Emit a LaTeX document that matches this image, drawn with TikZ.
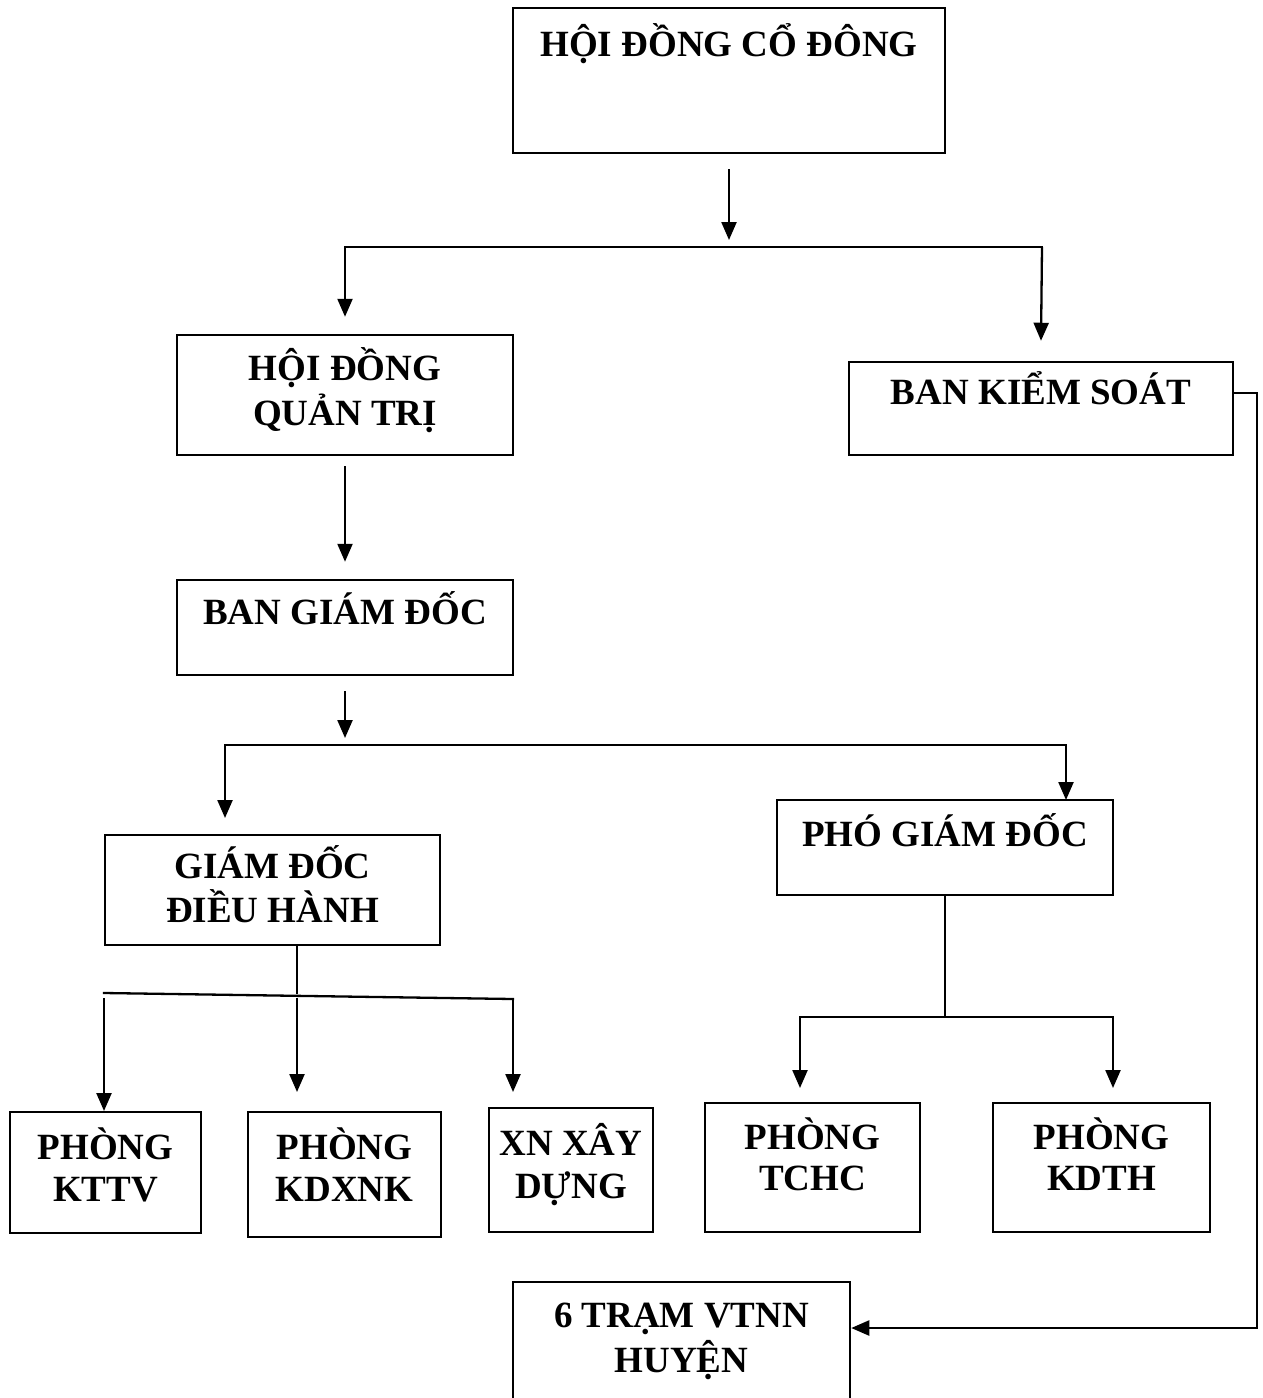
\documentclass[tikz,border=0pt]{standalone}
\usepackage{fontspec}
\setmainfont{Liberation Serif}
\usetikzlibrary{arrows.meta}
\begin{document}
\begin{tikzpicture}[x=1pt,y=-1pt,
  unit/.style={draw, line width=2.5pt, inner sep=0pt},
  lbl/.style={anchor=base, inner sep=0pt, font=\bfseries\fontsize{37}{44}\selectfont},
  link/.style={line width=2.3pt, line cap=rect},
  arr/.style={line width=2.3pt, -{Triangle[length=18pt,width=15pt]}}]

% page frame
\useasboundingbox (0,0) rectangle (1262,1398);
\clip (0,0) rectangle (1262,1398);
\fill[white] (0,0) rectangle (1262,1398);

% boxes
\node[unit, minimum width=432pt, minimum height=145pt] (hdcd)  at (729,80.5) {};
\node[unit, minimum width=336pt, minimum height=120pt] (hdqt)  at (345,395) {};
\node[unit, minimum width=384pt, minimum height=93pt]  (bks)   at (1041,408.5) {};
\node[unit, minimum width=336pt, minimum height=95pt]  (bgd)   at (345,627.5) {};
\node[unit, minimum width=335pt, minimum height=110pt] (gddh)  at (272.5,890) {};
\node[unit, minimum width=336pt, minimum height=95pt]  (pgd)   at (945,847.5) {};
\node[unit, minimum width=191pt, minimum height=121pt] (kttv)  at (105.5,1172.5) {};
\node[unit, minimum width=193pt, minimum height=125pt] (kdxnk) at (344.5,1174.5) {};
\node[unit, minimum width=164pt, minimum height=124pt] (xnxd)  at (571,1170) {};
\node[unit, minimum width=215pt, minimum height=129pt] (tchc)  at (812.5,1167.5) {};
\node[unit, minimum width=217pt, minimum height=129pt] (kdth)  at (1101.5,1167.5) {};
\node[unit, minimum width=337pt, minimum height=138pt] (tram)  at (681.5,1351) {};

% labels
\node[lbl] (t-hdcd)   at (729,56)    {HỘI ĐỒNG CỔ ĐÔNG};
\node[lbl] (t-hdqt1)  at (345,380)   {HỘI ĐỒNG};
\node[lbl] (t-hdqt2)  at (345,425)   {QUẢN TRỊ};
\node[lbl] (t-bks)    at (1041,404)  {BAN KIỂM SOÁT};
\node[lbl] (t-bgd)    at (345,624)   {BAN GIÁM ĐỐC};
\node[lbl] (t-gddh1)  at (272.5,878) {GIÁM ĐỐC};
\node[lbl] (t-gddh2)  at (272.5,922) {ĐIỀU HÀNH};
\node[lbl] (t-pgd)    at (945,846)   {PHÓ GIÁM ĐỐC};
\node[lbl] (t-kttv1)  at (105.5,1159) {PHÒNG};
\node[lbl] (t-kttv2)  at (105.5,1201) {KTTV};
\node[lbl] (t-kdxnk1) at (344.5,1159) {PHÒNG};
\node[lbl] (t-kdxnk2) at (344.5,1201) {KDXNK};
\node[lbl] (t-xnxd1)  at (571,1155)   {XN XÂY};
\node[lbl] (t-xnxd2)  at (571,1198)   {DỰNG};
\node[lbl] (t-tchc1)  at (812.5,1149) {PHÒNG};
\node[lbl] (t-tchc2)  at (812.5,1190) {TCHC};
\node[lbl] (t-kdth1)  at (1101.5,1149) {PHÒNG};
\node[lbl] (t-kdth2)  at (1101.5,1190) {KDTH};
\node[lbl] (t-tram1)  at (681.5,1327) {6 TRẠM VTNN};
\node[lbl] (t-tram2)  at (681.5,1372) {HUYỆN};

% heading of the next section, running off the page
\node[lbl, anchor=base west] (t-sec)  at (113,1428) {I.};
\node[lbl, anchor=base west] (t-sec2) at (155,1428) {Đại hội đồng cổ đông};

% junction and tip points
\coordinate (j1)  at (729,247);
\coordinate (jl1) at (345,247);
\coordinate (jr1) at (1042,247);
\coordinate (j2)  at (345,745);
\coordinate (jl2) at (225,745);
\coordinate (jr2) at (1066,745);
\coordinate (tl2) at (225,818);
\coordinate (tr2) at (1066,800);
\coordinate (g0)  at (297,945);
\coordinate (g1)  at (297,993);
\coordinate (bl)  at (104,993);
\coordinate (br)  at (513,999);
\coordinate (bl0) at (104,998);
\coordinate (bm0) at (297,998);
\coordinate (tl3) at (104,1111);
\coordinate (tm3) at (297,1092);
\coordinate (tr3) at (513,1092);
\coordinate (p1)  at (945,1017);
\coordinate (pl)  at (800,1017);
\coordinate (pr)  at (1113,1017);
\coordinate (tl4) at (800,1088);
\coordinate (tr4) at (1113,1088);
\coordinate (k1)  at (1257,393);
\coordinate (k2)  at (1257,1328);

% connectors
\draw[arr]  ([yshift=-15pt]hdcd.south) -- ([yshift=7pt]j1);
\draw[link] (jl1) -- (jr1);
\draw[arr]  (jl1) -- ([yshift=17pt]hdqt.north);
\draw[arr]  (jr1) -- ([yshift=20pt]bks.north);
\draw[arr]  ([yshift=-10pt]hdqt.south) -- ([yshift=17pt]bgd.north);
\draw[arr]  ([yshift=-15pt]bgd.south) -- ([yshift=7pt]j2);
\draw[link] (jl2) -- (jr2);
\draw[arr]  (jl2) -- (tl2);
\draw[arr]  (jr2) -- (tr2);

\draw[link] (g0) -- (g1);
\draw[link] (bl) -- (br);
\draw[arr]  (bl0) -- (tl3);
\draw[arr]  (bm0) -- (tm3);
\draw[arr]  (br) -- (tr3);

\draw[link] (pgd.south) -- (p1);
\draw[link] (pl) -- (pr);
\draw[arr]  (pl) -- (tl4);
\draw[arr]  (pr) -- (tr4);

\draw[arr, line cap=butt] ([yshift=15.5pt]bks.east) -- (k1) -- (k2) -- ([yshift=23pt]tram.east);
\end{tikzpicture}
\end{document}
